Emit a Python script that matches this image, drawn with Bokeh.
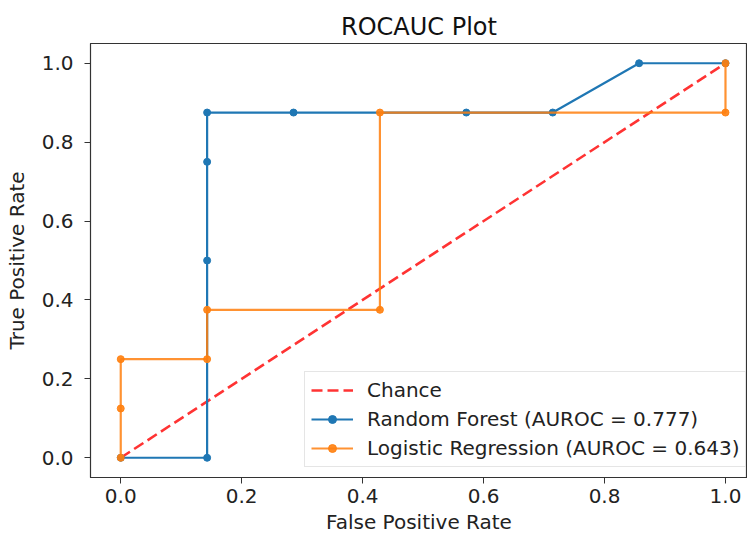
from bokeh.plotting import figure
from bokeh.models import Range1d, FixedTicker, Legend, CustomJSTickFormatter
from bokeh.embed import file_html
from bokeh.resources import INLINE

# Data
chance_x = [0.0, 1.0]
chance_y = [0.0, 1.0]

rf_fpr = [0.0, 1/7, 1/7, 1/7, 1/7, 2/7, 4/7, 5/7, 6/7, 1.0]
rf_tpr = [0.0, 0.0, 0.5, 0.75, 0.875, 0.875, 0.875, 0.875, 1.0, 1.0]

lr_fpr = [0.0, 0.0, 0.0, 1/7, 1/7, 3/7, 3/7, 1.0, 1.0]
lr_tpr = [0.0, 0.125, 0.25, 0.25, 0.375, 0.375, 0.875, 0.875, 1.0]

ticks = [0.0, 0.2, 0.4, 0.6, 0.8, 1.0]

FONT = "DejaVu Sans"
BLUE = "#1f77b4"
ORANGE = "#ff7f0e"
TXT = "#222222"

p = figure(width=747, height=542, output_backend="svg", toolbar_location=None,
           x_range=Range1d(-0.05, 1.0364), y_range=Range1d(-0.05, 1.05),
           min_border_left=90, min_border_right=0, min_border_top=43, min_border_bottom=65,
           title="ROCAUC Plot")

p.title.text_font = FONT
p.title.text_font_size = "24px"
p.title.text_font_style = "normal"
p.title.align = "center"
p.title.offset = 4
p.title.standoff = 6
p.title.text_color = "#111111"

p.xgrid.visible = False
p.ygrid.visible = False
p.outline_line_color = "#333333"
p.outline_line_width = 1.2

fmt = CustomJSTickFormatter(code="return tick.toFixed(1);")
for ax in (p.xaxis[0], p.yaxis[0]):
    ax.ticker = FixedTicker(ticks=ticks)
    ax.formatter = fmt
    ax.minor_tick_line_color = None
    ax.major_tick_in = 0
    ax.major_tick_out = 6
    ax.axis_line_color = "#333333"
    ax.major_tick_line_color = "#333333"
    ax.major_label_text_font = FONT
    ax.major_label_text_font_size = "20px"
    ax.major_label_text_color = TXT
    ax.axis_label_text_font = FONT
    ax.axis_label_text_font_size = "20px"
    ax.axis_label_text_font_style = "normal"
    ax.axis_label_text_color = TXT

p.xaxis.axis_label = "False Positive Rate"
p.yaxis.axis_label = "True Positive Rate"
p.xaxis.major_label_standoff = 5
p.yaxis.major_label_standoff = 11
p.xaxis.axis_label_standoff = 4
p.yaxis.axis_label_standoff = 10

r_ch = p.line(chance_x, chance_y, line_color="red", line_alpha=0.8, line_width=2.6,
              line_dash="11 5")
r_rf_l = p.line(rf_fpr, rf_tpr, line_color=BLUE, line_width=2.2)
r_rf_s = p.scatter(rf_fpr, rf_tpr, size=7, color=BLUE)
r_lr_l = p.line(lr_fpr, lr_tpr, line_color=ORANGE, line_alpha=0.85, line_width=2.2)
r_lr_s = p.scatter(lr_fpr, lr_tpr, size=7, color=ORANGE, alpha=0.9)

legend = Legend(items=[
    ("Chance", [r_ch]),
    ("Random Forest (AUROC = 0.777)", [r_rf_l, r_rf_s]),
    ("Logistic Regression (AUROC = 0.643)", [r_lr_l, r_lr_s]),
], location=(214, 10))
legend.label_text_font = FONT
legend.label_text_font_size = "20px"
legend.label_text_color = TXT
legend.glyph_width = 42
legend.glyph_height = 20
legend.label_height = 20
legend.spacing = 5
legend.padding = 6
legend.margin = 0
legend.label_standoff = 14
legend.border_line_color = "#cccccc"
legend.border_line_width = 1
legend.background_fill_alpha = 0.8
p.add_layout(legend, "center")

open("out.html", "w").write(file_html(p, INLINE))
